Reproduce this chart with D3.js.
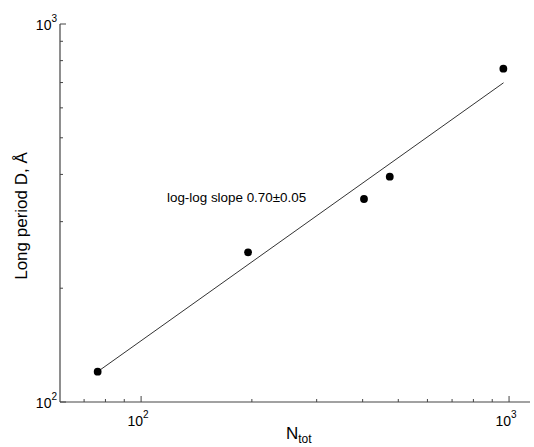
<!DOCTYPE html>
<html>
  <head>
    <meta charset="utf-8">
    <title>Long period vs N</title>
    <script src="https://cdn.jsdelivr.net/npm/d3@7"></script>
    <style>
      body { margin: 0; background: #fff; }
      svg { font-family: "Liberation Sans", Arial, sans-serif; }
    </style>
  </head>

  <body>
    <svg id="chart" width="534" height="447"></svg>

    <script>
      // data
      nTot = [76.2, 195.3, 403.4, 474, 965];
      longPeriod = [120.3, 248.9, 344.4, 394.5, 761.6];
      fitN = [76.2, 966];
      fitD = [120.3, 699];
      xMajor = [100, 1000];
      yMajor = [100, 1000];
      xLabels = ["2", "3"];
      yLabels = ["2", "3"];
      note = "log-log slope 0.70\u00b10.05";

      // elements
      chart = d3.select("#chart");
      margin = { top: 24, right: 4, bottom: 45, left: 60 };
      width = 534;
      height = 447;

      x = d3.scaleLog()
        .domain([60.2, 1140])
        .range([margin.left, width - margin.right]);
      y = d3.scaleLog()
        .domain([100, 1000])
        .range([height - margin.bottom, margin.top]);

      function minors(domain) {
        let out = [];
        for (let e = 1; e <= 3; e++) {
          for (let m = 2; m <= 9; m++) {
            let v = m * Math.pow(10, e);
            if (v > domain[0] && v < domain[1]) out.push(v);
          }
        }
        return out;
      }

      axisColour = "#444";
      x0 = margin.left;
      y0 = height - margin.bottom;

      // minor ticks
      chart.append("g")
        .selectAll("line")
          .data(minors(x.domain()))
        .enter().append("line")
          .attr("x1", function(d) { return x(d); })
          .attr("x2", function(d) { return x(d); })
          .attr("y1", y0)
          .attr("y2", y0 - 3)
          .attr("stroke", axisColour);
      chart.append("g")
        .selectAll("line")
          .data(minors(y.domain()))
        .enter().append("line")
          .attr("y1", function(d) { return y(d); })
          .attr("y2", function(d) { return y(d); })
          .attr("x1", x0)
          .attr("x2", x0 + 3)
          .attr("stroke", axisColour);

      // major ticks
      chart.append("g")
        .selectAll("line")
          .data(xMajor)
        .enter().append("line")
          .attr("x1", function(d) { return x(d); })
          .attr("x2", function(d) { return x(d); })
          .attr("y1", y0)
          .attr("y2", y0 - 6)
          .attr("stroke", axisColour);
      chart.append("g")
        .selectAll("line")
          .data(yMajor)
        .enter().append("line")
          .attr("y1", function(d) { return y(d); })
          .attr("y2", function(d) { return y(d); })
          .attr("x1", x0)
          .attr("x2", x0 + 6)
          .attr("stroke", axisColour);

      // axis lines
      chart.append("line")
        .attr("x1", x0).attr("x2", x0)
        .attr("y1", y.range()[1]).attr("y2", y0)
        .attr("stroke", axisColour)
        .attr("stroke-width", 1.2);
      chart.append("line")
        .attr("x1", x0).attr("x2", x.range()[1])
        .attr("y1", y0).attr("y2", y0)
        .attr("stroke", axisColour)
        .attr("stroke-width", 1.2);

      // tick labels
      xLab = chart.append("g")
        .selectAll("text")
          .data(xMajor)
        .enter().append("text")
          .attr("x", function(d) { return x(d) - 3; })
          .attr("y", y0 + 24)
          .attr("text-anchor", "middle")
          .style("font-size", "14px")
          .text("10");
      xLab.append("tspan")
        .attr("dy", -8)
        .style("font-size", "10px")
        .text(function(d, i) { return xLabels[i]; });

      yLab = chart.append("g")
        .selectAll("text")
          .data(yMajor)
        .enter().append("text")
          .attr("x", x0 - 3)
          .attr("y", function(d) { return y(d) + 6; })
          .attr("text-anchor", "end")
          .style("font-size", "14px")
          .text("10");
      yLab.append("tspan")
        .attr("dy", -8)
        .style("font-size", "10px")
        .text(function(d, i) { return yLabels[i]; });

      // fit line
      chart.append("line")
        .attr("x1", x(fitN[0])).attr("y1", y(fitD[0]))
        .attr("x2", x(fitN[1])).attr("y2", y(fitD[1]))
        .attr("stroke", "#333")
        .attr("stroke-width", 1);

      // points
      chart.append("g")
        .selectAll("circle")
          .data(nTot)
        .enter().append("circle")
          .attr("cx", function(d) { return x(d); })
          .attr("cy", function(d, i) { return y(longPeriod[i]); })
          .attr("r", 3.9)
          .attr("fill", "#000");

      // annotation
      chart.append("text")
        .attr("x", 167)
        .attr("y", 202)
        .style("font-size", "13.4px")
        .text(note);

      // axis titles
      xTitle = chart.append("text")
        .attr("x", 286)
        .attr("y", 439)
        .style("font-size", "17px")
        .text("N");
      xTitle.append("tspan")
        .attr("dy", 4)
        .style("font-size", "12px")
        .text("tot");

      chart.append("text")
        .attr("transform", "translate(27, 216) rotate(-90)")
        .attr("text-anchor", "middle")
        .style("font-size", "17px")
        .text("Long period  D, \u00c5");
    </script>
  </body>
</html>
